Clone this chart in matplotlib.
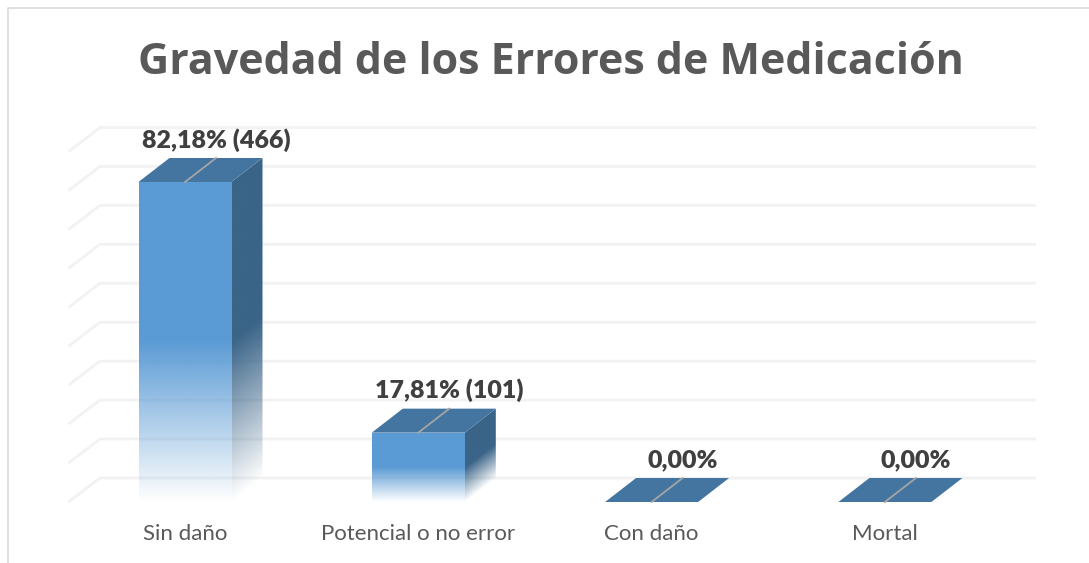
import matplotlib
matplotlib.use('Agg')
import matplotlib.pyplot as plt
import numpy as np
from matplotlib.colors import to_rgb
from matplotlib.patches import Polygon

categories = ['Sin daño', 'Potencial o no error', 'Con daño', 'Mortal']
values = [82.18, 17.81, 0.0, 0.0]
value_labels = ['82,18% (466)', '17,81% (101)', '0,00%', '0,00%']
gridlines = [0, 10, 20, 30, 40, 50, 60, 70, 80, 90]

FRONT_COLOR = '#5b9bd5'
SIDE_COLOR = '#3a6488'
TOP_COLOR = '#4475a0'
SLIT_COLOR = '#a5a5a5'
GRID_COLOR = '#f2f2f2'
BORDER_COLOR = '#d9d9d9'
TITLE_COLOR = '#595959'
LABEL_COLOR = '#404040'

# axes units: one category = 233.3 px, ten percent = 38.94 px
X_SCALE = 233.3
Y_SCALE = 3.894
HALF_W = 46.5 / X_SCALE
DEPTH_X = 31 / X_SCALE
DEPTH_Y = 24 / Y_SCALE
FADE = 0.5

fig = plt.figure(figsize=(10.89, 5.63), dpi=100, facecolor='white')
ax = fig.add_axes([0, 0, 1, 1])
ax.set_xlim(-185 / X_SCALE, (1089 - 185) / X_SCALE)
ax.set_ylim((502 - 563) / Y_SCALE, 502 / Y_SCALE)
ax.axis('off')


def px(x, y):
    return (x - 185) / X_SCALE, (502 - y) / Y_SCALE


def fade_image(color, extent, base, height, polygon, zorder):
    # alpha goes from 0 at the base of the bar to 1 halfway up
    x0, x1, y0, y1 = extent
    xs = np.linspace(x0, x1, 60)
    ys = np.linspace(y0, y1, 400)
    xx, yy = np.meshgrid(xs, ys)
    frac = (yy - base(xx)) / height
    img = np.zeros(xx.shape + (4,))
    img[..., :3] = to_rgb(color)
    img[..., 3] = np.clip(frac / FADE, 0, 1)
    im = ax.imshow(img, extent=extent, origin='lower', aspect='auto', zorder=zorder,
                   interpolation='bilinear')
    patch = Polygon(polygon, transform=ax.transData, fill=False, edgecolor='none')
    ax.add_patch(patch)
    im.set_clip_path(patch)


# back wall gridlines with the diagonal on the floor side
for g in gridlines:
    ax.plot([-HALF_W - 70 / X_SCALE, -85 / X_SCALE, 851 / X_SCALE],
            [g, g + DEPTH_Y, g + DEPTH_Y],
            color=GRID_COLOR, lw=2.0, zorder=1, solid_capstyle='butt')

for i, (v, lab) in enumerate(zip(values, value_labels)):
    left = i - HALF_W
    right = i + HALF_W
    if v > 0:
        fade_image(FRONT_COLOR, (left, right, 0, v), lambda xx: 0 * xx, v,
                   [(left, 0), (right, 0), (right, v), (left, v)], 3)
        side = [(right, 0), (right + DEPTH_X, DEPTH_Y),
                (right + DEPTH_X, v + DEPTH_Y), (right, v)]
        fade_image(SIDE_COLOR, (right, right + DEPTH_X, 0, v + DEPTH_Y),
                   lambda xx: (xx - right) / DEPTH_X * DEPTH_Y, v, side, 3)
    top = [(left, v), (right, v), (right + DEPTH_X, v + DEPTH_Y), (left + DEPTH_X, v + DEPTH_Y)]
    ax.add_patch(Polygon(top, closed=True, facecolor=TOP_COLOR, edgecolor='none', zorder=4))
    ax.plot([i, i + DEPTH_X], [v, v + DEPTH_Y], color=SLIT_COLOR, lw=1.3, zorder=5)
    ax.text(i + DEPTH_X, v + DEPTH_Y + 18 / Y_SCALE, lab,
            family='Lato', fontweight='heavy', fontsize=18, color=LABEL_COLOR,
            ha='center', va='center', zorder=6)
    ax.text(i, -8.2, categories[i], family='Lato', fontsize=16, color=TITLE_COLOR,
            ha='center', va='center', zorder=6)

ax.text(*px(551, 63), 'Gravedad de los Errores de Medicación', family='Open Sans',
        fontweight='bold', fontsize=31, color=TITLE_COLOR, ha='center', va='center')

# chart frame, cut off by the crop on the right and bottom
ax.plot(*zip(px(8, 563), px(8, 8), px(1089, 8)), color=BORDER_COLOR, lw=1.2, zorder=7)

fig.savefig('out.png', dpi=100)
